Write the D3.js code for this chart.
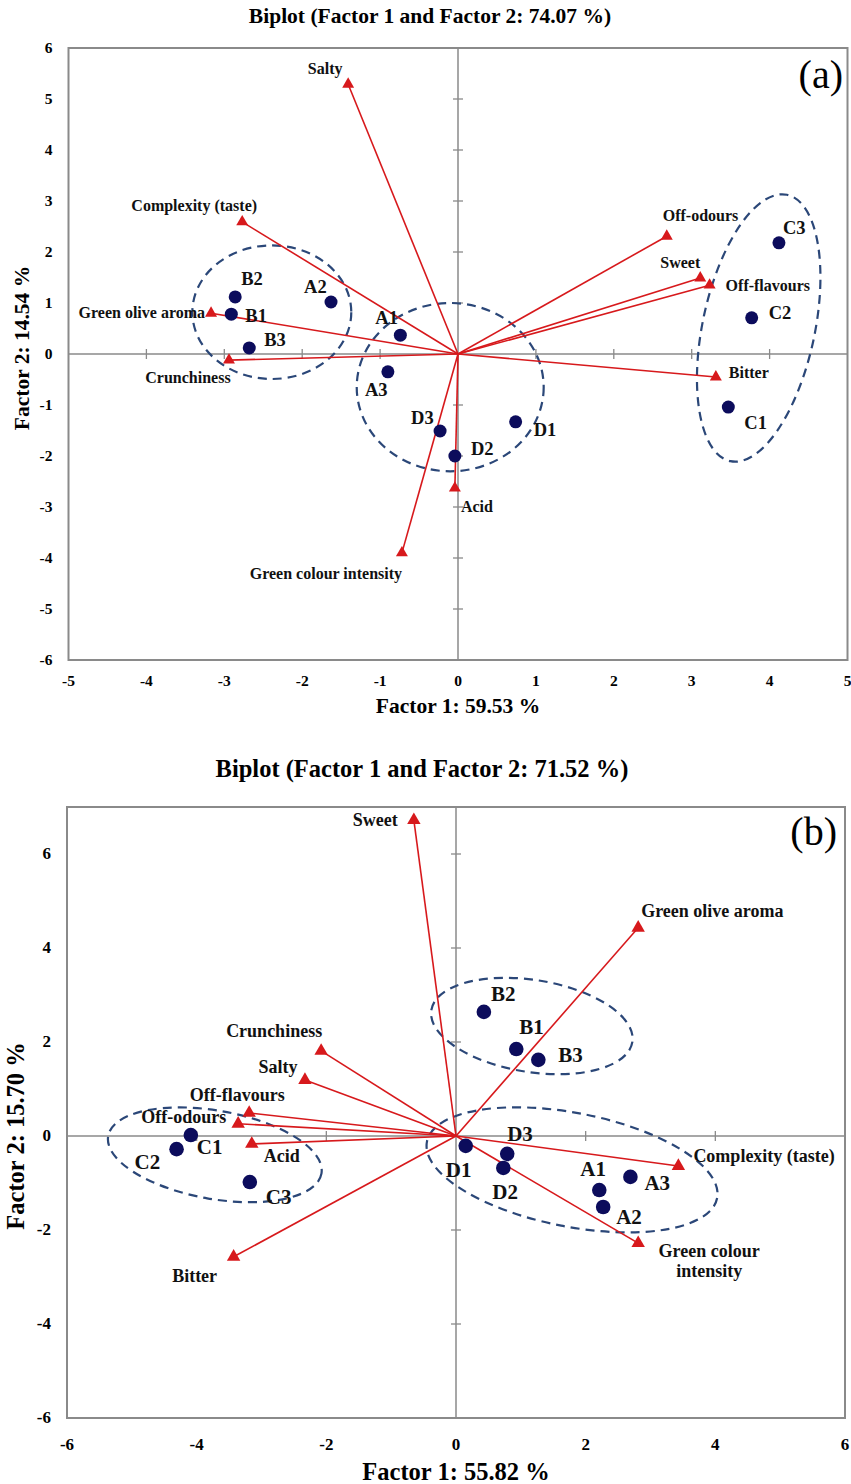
<!DOCTYPE html>
<html>
<head>
<meta charset="utf-8">
<script src="https://cdn.jsdelivr.net/npm/d3@7"></script>
<style>
  body { margin: 0; background: #fff; }
  text { font-family: "Liberation Serif", "Times New Roman", serif; font-weight: bold; }
</style>
</head>
<body>
<script>
// ---- panel (a) data ----
const titleA = 'Biplot (Factor 1 and Factor 2: 74.07 %)';
const xTitleA = 'Factor 1: 59.53 %';
const yTitleA = 'Factor 2: 14.54 %';
const samplesA = ['B2', 'B1', 'B3', 'A2', 'A1', 'A3', 'D3', 'D2', 'D1', 'C3', 'C2', 'C1'];
const samplesA_f1 = [-2.86, -2.91, -2.68, -1.63, -0.74, -0.90, -0.23, -0.04, 0.74, 4.12, 3.77, 3.47];
const samplesA_f2 = [1.12, 0.78, 0.12, 1.02, 0.37, -0.35, -1.51, -2.00, -1.33, 2.18, 0.71, -1.04];
const variablesA = ['Salty', 'Complexity (taste)', 'Green olive aroma', 'Crunchiness', 'Off-odours',
  'Sweet', 'Off-flavours', 'Bitter', 'Acid', 'Green colour intensity'];
const variablesA_f1 = [-1.41, -2.77, -3.17, -2.94, 2.68, 3.11, 3.23, 3.31, -0.04, -0.72];
const variablesA_f2 = [5.29, 2.59, 0.80, -0.12, 2.31, 1.49, 1.35, -0.45, -2.63, -3.90];
// group ellipses (centre, semi-axes in factor units, tilt in degrees)
const groupsA_cx = [-2.39, -0.10, 3.86];
const groupsA_cy = [0.82, -0.65, 0.51];
const groupsA_rx = [1.02, 1.20, 0.72];
const groupsA_ry = [1.31, 1.65, 2.67];
const groupsA_tilt = [0, 0, 12];

// ---- panel (b) data ----
const titleB = 'Biplot (Factor 1 and Factor 2: 71.52 %)';
const xTitleB = 'Factor 1: 55.82 %';
const yTitleB = 'Factor 2: 15.70 %';
const samplesB = ['B2', 'B1', 'B3', 'D1', 'D3', 'D2', 'A1', 'A2', 'A3', 'C1', 'C2', 'C3'];
const samplesB_f1 = [0.43, 0.93, 1.27, 0.15, 0.79, 0.73, 2.21, 2.27, 2.69, -4.09, -4.31, -3.18];
const samplesB_f2 = [2.64, 1.85, 1.62, -0.21, -0.38, -0.68, -1.15, -1.51, -0.87, 0.02, -0.28, -0.98];
const variablesB = ['Sweet', 'Green olive aroma', 'Crunchiness', 'Salty', 'Off-flavours', 'Off-odours',
  'Acid', 'Bitter', 'Complexity (taste)', 'Green colour intensity'];
const variablesB_f1 = [-0.65, 2.81, -2.08, -2.33, -3.19, -3.36, -3.15, -3.43, 3.43, 2.81];
const variablesB_f2 = [6.72, 4.43, 1.81, 1.19, 0.49, 0.26, -0.17, -2.57, -0.64, -2.28];
const groupsB_cx = [1.17, 1.79, -3.72];
const groupsB_cy = [2.34, -0.72, -0.40];
const groupsB_rx = [1.57, 2.28, 1.67];
const groupsB_ry = [0.98, 1.21, 0.94];
const groupsB_tilt = [9, 11, 10];

// ---- layout ----
const W = 851, H = 1484;
const svg = d3.select('body').append('svg').attr('width', W).attr('height', H);

// label offsets: [dx, dy, anchor] relative to the mark, in px
const sampleLabA = {
  B2: [6, -12, 'start'], B1: [14, 8, 'start'], B3: [15, -2, 'start'], A2: [-27, -9, 'start'],
  A1: [-25, -11, 'start'], A3: [-23, 24, 'start'], D3: [-29, -7, 'start'], D2: [16, -1, 'start'],
  D1: [18, 14, 'start'], C3: [4, -9, 'start'], C2: [17, 1, 'start'], C1: [16, 22, 'start']
};
const varLabA = {
  'Salty': [-23, -10, 'middle'], 'Complexity (taste)': [-48, -11, 'middle'],
  'Green olive aroma': [-6, 5, 'end'], 'Crunchiness': [-41, 23, 'middle'],
  'Off-odours': [-4, -15, 'start'], 'Sweet': [0, -10, 'end'], 'Off-flavours': [16, 6, 'start'],
  'Bitter': [13, 1, 'start'], 'Acid': [6, 24, 'start'], 'Green colour intensity': [-76, 26, 'middle']
};
const sampleLabB = {
  B2: [7, -11, 'start'], B1: [3, -15, 'start'], B3: [20, 2, 'start'], D3: [0, -13, 'start'],
  D1: [-20, 31, 'start'], D2: [-11, 31, 'start'], A1: [-19, -14, 'start'], A3: [14, 13, 'start'],
  A2: [13, 17, 'start'], C1: [6, 19, 'start'], C2: [-42, 20, 'start'], C3: [16, 22, 'start']
};
const varLabB = {
  'Sweet': [-16, 6, 'end'], 'Green olive aroma': [3, -11, 'start'], 'Crunchiness': [-47, -14, 'middle'],
  'Salty': [-27, -7, 'middle'], 'Off-flavours': [-12, -12, 'middle'], 'Off-odours': [-12, -1, 'end'],
  'Acid': [12, 18, 'start'], 'Bitter': [-39, 25, 'middle'], 'Complexity (taste)': [15, -4, 'start'],
  'Green colour intensity': [71, 14, 'middle']
};

const panels = [
  {
    tag: '(a)', title: titleA, xTitle: xTitleA, yTitle: yTitleA,
    left: 68.5, right: 847.5, top: 48, bottom: 660,
    xDom: [-5, 5], yDom: [-6, 6], xTicks: d3.range(-5, 6), yTicks: d3.range(-6, 7),
    titleX: 430, titleY: 23, xTickY: 686, xTitleY: 713, yTitleX: 29, yTitleMid: 348,
    titleFs: 21.5, axisFs: 21.5, tickFs: 15.5, sampleFs: 18.5, varFs: 16, triSize: 62, ptR: 6.5,
    samples: samplesA, sf1: samplesA_f1, sf2: samplesA_f2,
    vars: variablesA, vf1: variablesA_f1, vf2: variablesA_f2,
    gcx: groupsA_cx, gcy: groupsA_cy, grx: groupsA_rx, gry: groupsA_ry, gtilt: groupsA_tilt,
    sLab: sampleLabA, vLab: varLabA, tagX: 843, tagY: 88
  },
  {
    tag: '(b)', title: titleB, xTitle: xTitleB, yTitle: yTitleB,
    left: 67, right: 845, top: 807, bottom: 1418,
    xDom: [-6, 6], yDom: [-6, 7], xTicks: d3.range(-6, 7, 2), yTicks: d3.range(-6, 7, 2),
    titleX: 422, titleY: 777, xTickY: 1450, xTitleY: 1480, yTitleX: 24, yTitleMid: 1136,
    titleFs: 24.5, axisFs: 24.5, tickFs: 17, sampleFs: 21, varFs: 18, triSize: 78, ptR: 7.3,
    samples: samplesB, sf1: samplesB_f1, sf2: samplesB_f2,
    vars: variablesB, vf1: variablesB_f1, vf2: variablesB_f2,
    gcx: groupsB_cx, gcy: groupsB_cy, grx: groupsB_rx, gry: groupsB_ry, gtilt: groupsB_tilt,
    sLab: sampleLabB, vLab: varLabB, tagX: 837, tagY: 845
  }
];

const grey = '#8a8a8a';
const red = '#d7191c';
const navy = '#0c0c5c';
const dashBlue = '#2b4778';

panels.forEach(p => {
  const x = d3.scaleLinear().domain(p.xDom).range([p.left, p.right]);
  const y = d3.scaleLinear().domain(p.yDom).range([p.bottom, p.top]);
  const g = svg.append('g');
  const cx = (p.left + p.right) / 2;

  g.append('text').attr('x', p.titleX).attr('y', p.titleY).attr('text-anchor', 'middle')
    .attr('font-size', p.titleFs).text(p.title);

  // frame
  g.append('rect').attr('x', p.left).attr('y', p.top)
    .attr('width', p.right - p.left).attr('height', p.bottom - p.top)
    .attr('fill', 'none').attr('stroke', grey).attr('stroke-width', 2);

  // zero lines
  g.append('line').attr('x1', x(0)).attr('x2', x(0)).attr('y1', p.top).attr('y2', p.bottom)
    .attr('stroke', grey).attr('stroke-width', 1.5);
  g.append('line').attr('x1', p.left).attr('x2', p.right).attr('y1', y(0)).attr('y2', y(0))
    .attr('stroke', grey).attr('stroke-width', 1.5);

  // ticks crossing the zero lines
  g.selectAll('.xt').data(p.xTicks.filter(d => d !== 0 && d !== p.xDom[0] && d !== p.xDom[1]))
    .enter().append('line')
    .attr('x1', d => x(d)).attr('x2', d => x(d)).attr('y1', y(0) - 5).attr('y2', y(0) + 5)
    .attr('stroke', grey).attr('stroke-width', 1.3);
  g.selectAll('.yt').data(p.yTicks.filter(d => d !== 0 && d > p.yDom[0] && d < p.yDom[1]))
    .enter().append('line')
    .attr('x1', x(0) - 5).attr('x2', x(0) + 5).attr('y1', d => y(d)).attr('y2', d => y(d))
    .attr('stroke', grey).attr('stroke-width', 1.3);

  // tick labels
  g.selectAll('.xl').data(p.xTicks).enter().append('text')
    .attr('x', d => x(d)).attr('y', p.xTickY).attr('text-anchor', 'middle')
    .attr('font-size', p.tickFs).text(d => d);
  g.selectAll('.yl').data(p.yTicks).enter().append('text')
    .attr('x', p.left - 16).attr('y', d => y(d) + 5).attr('text-anchor', 'end')
    .attr('font-size', p.tickFs).text(d => d);

  // axis titles
  g.append('text').attr('x', cx).attr('y', p.xTitleY).attr('text-anchor', 'middle')
    .attr('font-size', p.axisFs).text(p.xTitle);
  g.append('text').attr('transform', `translate(${p.yTitleX},${p.yTitleMid}) rotate(-90)`)
    .attr('text-anchor', 'middle').attr('font-size', p.axisFs).text(p.yTitle);

  // group ellipses
  const groups = p.gcx.map((c, i) => ({ cx: c, cy: p.gcy[i], rx: p.grx[i], ry: p.gry[i], t: p.gtilt[i] }));
  g.selectAll('.ell').data(groups).enter().append('ellipse')
    .attr('cx', 0).attr('cy', 0)
    .attr('rx', d => x(d.rx) - x(0)).attr('ry', d => y(0) - y(d.ry))
    .attr('transform', d => `translate(${x(d.cx)},${y(d.cy)}) rotate(${d.t})`)
    .attr('fill', 'none').attr('stroke', dashBlue).attr('stroke-width', 2.2)
    .attr('stroke-dasharray', '9,6');

  // variable vectors
  const vars = p.vars.map((n, i) => ({ name: n, f1: p.vf1[i], f2: p.vf2[i] }));
  g.selectAll('.vec').data(vars).enter().append('line')
    .attr('x1', x(0)).attr('y1', y(0)).attr('x2', d => x(d.f1)).attr('y2', d => y(d.f2))
    .attr('stroke', red).attr('stroke-width', 1.6);
  g.selectAll('.tri').data(vars).enter().append('path')
    .attr('d', d3.symbol(d3.symbolTriangle, p.triSize))
    .attr('transform', d => `translate(${x(d.f1)},${y(d.f2)})`)
    .attr('fill', red);

  // sample points
  const pts = p.samples.map((n, i) => ({ name: n, f1: p.sf1[i], f2: p.sf2[i] }));
  g.selectAll('.pt').data(pts).enter().append('circle')
    .attr('cx', d => x(d.f1)).attr('cy', d => y(d.f2)).attr('r', p.ptR)
    .attr('fill', navy);

  // sample labels
  g.selectAll('.pl').data(pts).enter().append('text')
    .attr('x', d => x(d.f1) + p.sLab[d.name][0]).attr('y', d => y(d.f2) + p.sLab[d.name][1])
    .attr('text-anchor', d => p.sLab[d.name][2])
    .attr('font-size', p.sampleFs).attr('fill', '#111').text(d => d.name);

  // variable labels
  g.selectAll('.vl').data(vars).enter().append('text')
    .attr('x', d => x(d.f1) + p.vLab[d.name][0]).attr('y', d => y(d.f2) + p.vLab[d.name][1])
    .attr('text-anchor', d => p.vLab[d.name][2])
    .attr('font-size', p.varFs).attr('fill', '#111')
    .each(function(d) {
      const t = d3.select(this);
      if (p.tag === '(b)' && d.name === 'Green colour intensity') {
        t.append('tspan').attr('x', t.attr('x')).text('Green colour');
        t.append('tspan').attr('x', t.attr('x')).attr('dy', 20).text('intensity');
      } else {
        t.text(d.name);
      }
    });

  // panel tag
  g.append('text').attr('x', p.tagX).attr('y', p.tagY).attr('text-anchor', 'end')
    .attr('font-size', 40).style('font-weight', 'normal').text(p.tag);
});
</script>
</body>
</html>
